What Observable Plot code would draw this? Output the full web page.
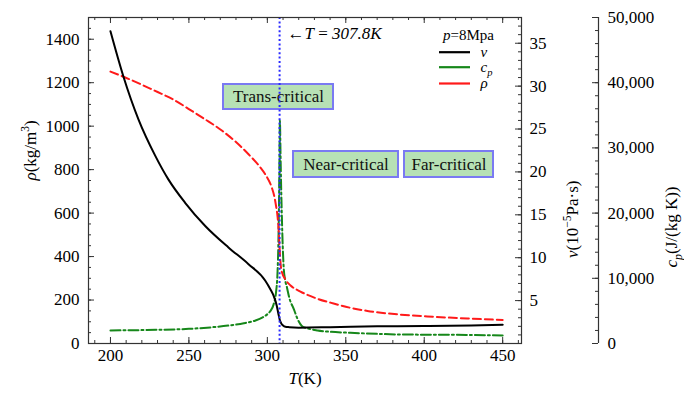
<!DOCTYPE html>
<html><head><meta charset="utf-8">
<script src="https://cdn.jsdelivr.net/npm/d3@7"></script>
<script src="https://cdn.jsdelivr.net/npm/@observablehq/plot@0.6"></script>
<style>
body{margin:0;background:#fff}
</style>
</head><body><div id="chart"></div>
<script>
// ---- data ----
const T_rho = [200,209.4,219,228.5,240,249.7,260,271,280,288,295,298.6,302.8,304.5,305.5,306.5,307.2,307.8,308.3,309,311.6,314.8,321.1,330.7,342.2,353,363.8,384.9,405.9,427.6,450];
const rho   = [1251,1224,1194,1162,1123,1080,1033,980,927,871,815,779,718,675,635,585,520,440,380,336,294,267,239,209,184,164,150,133,123,115,108];

const T_nu = [200,208.3,217.9,228.5,237,247.6,260.4,275.2,288,298.6,302,303.9,306,307,308,309,310,311.5,314,320,340,370,400,430,450];
const nu   = [36.4,31.1,26.1,21.9,19.1,16.4,13.7,11.2,9.25,7.35,6.3,5.6,4.4,3.5,2.7,2.3,2.1,1.95,1.9,1.85,1.9,2.0,2.05,2.1,2.2];

const T_cp = [200,230,250,265,275,285,292,297,300.5,302,304,305.5,306.5,307,307.4,307.7,308,308.4,308.8,309.3,309.8,310.4,311.3,312.5,314,317,319,322,326,332,340,353,370,385,405,427,450];
const cp   = [2000,2100,2250,2500,2750,3100,3500,4000,4600,5000,6000,7800,11000,15000,21000,28000,34200,29000,24000,19000,15000,11700,9800,8600,7000,5200,3900,2700,2300,2000,1800,1640,1480,1380,1350,1320,1240];

const T_crit = 307.8;

const xTicks = [200,250,300,350,400,450];
const xMinor = d3.range(190,461,10);
const rhoTicks = [0,200,400,600,800,1000,1200,1400];
const rhoMinor = d3.range(0,1501,50);
const nuTicks = [5,10,15,20,25,30,35];
const nuMinor = d3.range(1,38,1);
const cpTicks = [0,10000,20000,30000,40000,50000];
const cpMinor = d3.range(0,50001,2000);

// ---- scales / layout ----
const W = 684, H = 394, mL = 88, mR = 163, mT = 17, mB = 51;
const xDom = [186,462], yDom = [0,1500];
const nuMax = 38, cpMax = 50000;
const kNu = yDom[1]/nuMax, kCp = yDom[1]/cpMax;
const fw = W-mL-mR, fh = H-mT-mB;
const fx = d3.scaleLinear([mL, W-mR], xDom);
const fy = d3.scaleLinear([H-mB, mT], yDom);
const cpDx = 77;

const rhoData = T_rho.map((t,i)=>({T:t, v:rho[i]}));
const nuData = T_nu.map((t,i)=>({T:t, v:nu[i]}));
const cpData = T_cp.map((t,i)=>({T:t, v:cp[i]}));

const RED="#ff1a1a", GREEN="#16871a", BLUE="#2a2aff", AX="#333";
const dashRed="8,4", dashGreen="10,3,2,3";
const FONT = "Liberation Serif";

const boxes = [
  {label:"Trans-critical", x1:fx(223), x2:fx(333), y1:fy(109), y2:fy(84)},
  {label:"Near-critical", x1:fx(293), x2:fx(398), y1:fy(177), y2:fy(151)},
  {label:"Far-critical",  x1:fx(404), x2:fx(493), y1:fy(177), y2:fy(151)}
];
const legend = [
  {label:"§i:ν", stroke:"black", dash:null, y:fy(51.7)},
  {label:"§i:c|b:p", stroke:GREEN, dash:dashGreen, y:fy(66.7)},
  {label:"§i:ρ", stroke:RED, dash:dashRed, y:fy(83)}
];

const chart = Plot.plot({
  width: W, height: H,
  marginLeft: mL, marginRight: mR, marginTop: mT, marginBottom: mB,
  x: {domain: xDom, axis: null},
  y: {domain: yDom, axis: null},
  style: {fontFamily: FONT, fontSize: "17px", background: "white", overflow: "visible"},
  marks: [
    Plot.line(cpData, {x:"T", y:d=>d.v*kCp, stroke:GREEN, strokeWidth:2, strokeDasharray:dashGreen, curve:"monotone-x"}),
    Plot.line(rhoData, {x:"T", y:"v", stroke:RED, strokeWidth:2, strokeDasharray:dashRed, curve:"monotone-x"}),
    Plot.line(nuData, {x:"T", y:d=>d.v*kNu, stroke:"black", strokeWidth:2, curve:"monotone-x"}),
    Plot.rect(boxes, {x1:"x1", x2:"x2", y1:"y1", y2:"y2", fill:"#b7e1b5", stroke:"#7a7af2", strokeWidth:2}),
    Plot.text(boxes, {x:d=>(d.x1+d.x2)/2, y:d=>(d.y1+d.y2)/2, text:"label", fontSize:17, fill:"#111", fontFamily:FONT}),
    Plot.ruleX([T_crit], {stroke:BLUE, strokeWidth:2, strokeDasharray:"2,2.4"}),
    Plot.text(["§←|i:T| = |i:307.8K"], {x:fx(287), y:fy(33), textAnchor:"start", fontSize:17, fontFamily:FONT}),
    Plot.text(["§i:p|=8Mpa"], {x:fx(468), y:fy(35), fontSize:15, fontFamily:FONT}),
    Plot.ruleY(legend, {y:"y", x1:fx(439), x2:fx(470), stroke:"stroke", strokeWidth:2.2, strokeDasharray:d=>d.dash}),
    Plot.text(legend, {x:fx(480), y:"y", text:"label", textAnchor:"start", fontSize:15, fontFamily:FONT}),
    Plot.frame({stroke:AX, strokeWidth:1.2}),
    Plot.tickX(xTicks, {x:d=>d, insetTop:fh-6, stroke:AX}),
    Plot.tickX(xMinor, {x:d=>d, insetTop:fh-3, stroke:AX}),
    Plot.tickX(xTicks, {x:d=>d, insetBottom:fh-6, stroke:AX}),
    Plot.tickX(xMinor, {x:d=>d, insetBottom:fh-3, stroke:AX}),
    Plot.text(xTicks, {x:d=>d, frameAnchor:"bottom", dy:17, text:d=>String(d), fontFamily:FONT}),
    Plot.tickY(rhoTicks, {y:d=>d, insetRight:fw-6, stroke:AX}),
    Plot.tickY(rhoMinor, {y:d=>d, insetRight:fw-3, stroke:AX}),
    Plot.text(rhoTicks, {y:d=>d, frameAnchor:"left", dx:-9, textAnchor:"end", text:d=>String(d), fontFamily:FONT}),
    Plot.tickY(nuTicks, {y:d=>d*kNu, insetLeft:fw-6, stroke:AX}),
    Plot.tickY(nuMinor, {y:d=>d*kNu, insetLeft:fw-3, stroke:AX}),
    Plot.text(nuTicks, {y:d=>d*kNu, frameAnchor:"right", dx:8, textAnchor:"start", text:d=>String(d), fontFamily:FONT}),
    Plot.ruleX([xDom[1]], {dx:cpDx, stroke:AX, strokeWidth:1.2}),
    Plot.tickY(cpTicks, {y:d=>d*kCp, insetLeft:fw-6, dx:cpDx, stroke:AX}),
    Plot.tickY(cpMinor, {y:d=>d*kCp, insetLeft:fw-3, dx:cpDx, stroke:AX}),
    Plot.text(cpTicks, {y:d=>d*kCp, frameAnchor:"right", dx:cpDx+9, textAnchor:"start", text:d=>d3.format(",")(d), fontFamily:FONT}),
    Plot.text(["§i:T|(K)"], {frameAnchor:"bottom", dy:40, fontFamily:FONT}),
    Plot.text(["§i:ρ|(kg/m|u:3|)"], {frameAnchor:"left", dx:-58, rotate:-90, fontFamily:FONT}),
    Plot.text(["§i:ν|(10|u:−5|Pa·s)"], {frameAnchor:"right", dx:51, rotate:-90, fontFamily:FONT}),
    Plot.text(["§i:c|b:p|(J/(kg K))"], {frameAnchor:"right", dx:150, dy:6, rotate:-90, fontFamily:FONT})
  ]
});
document.getElementById("chart").appendChild(chart);

chart.querySelectorAll("text").forEach(t=>{
  const s = t.textContent;
  if (!s.startsWith("§")) return;
  const base = parseFloat(getComputedStyle(t).fontSize) || 17;
  t.textContent = "";
  let cur = 0;
  for (const p of s.slice(1).split("|")) {
    let type = "n", txt = p;
    const m = p.match(/^([iub]):(.*)$/s);
    if (m) { type = m[1]; txt = m[2]; }
    const ts = document.createElementNS("http://www.w3.org/2000/svg","tspan");
    ts.textContent = txt;
    let target = 0;
    if (type === "i") ts.setAttribute("font-style","italic");
    if (type === "u") { ts.setAttribute("font-size", (base*0.68)+"px"); target = -0.4*base; }
    if (type === "b") { ts.setAttribute("font-size", (base*0.7)+"px"); ts.setAttribute("font-style","italic"); target = 0.28*base; }
    if (target !== cur) { ts.setAttribute("dy", (target-cur)+"px"); cur = target; }
    t.appendChild(ts);
  }
});
</script>
</body></html>
